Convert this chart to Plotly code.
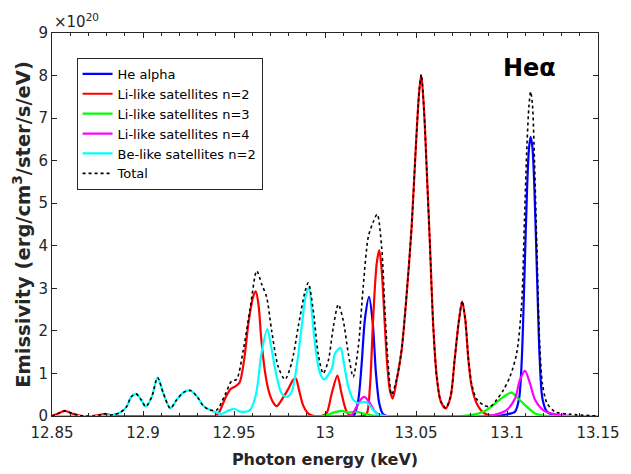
import plotly.graph_objects as go

# ---- data (keV, emissivity in units of 1e20) ----
he_x = [12.85, 13.014, 13.016, 13.0183, 13.0201, 13.022, 13.0242, 13.0262, 13.028, 13.0298, 13.0318, 13.034,
        13.095, 13.1, 13.1044, 13.1066, 13.1081, 13.1096, 13.111, 13.1121, 13.113, 13.114, 13.1151, 13.1165,
        13.118, 13.1195, 13.122, 13.1264, 13.135, 13.15]
he_y = [0, 0, 0.02, 0.38, 1.2, 2.3, 2.8, 2.2, 1.0, 0.3, 0.05, 0,
        0, 0.04, 0.1, 0.4, 1.3, 3.3, 5.3, 6.3, 6.56, 6.3, 5.3, 3.3,
        1.3, 0.4, 0.1, 0.02, 0, 0]

li2_x = [12.85, 12.853, 12.857, 12.861, 12.865, 12.872, 12.876, 12.879, 12.882, 12.886, 12.937,
         12.9396, 12.942, 12.945, 12.948, 12.9505, 12.953, 12.9555, 12.958, 12.9605, 12.962, 12.9635,
         12.965, 12.967, 12.969, 12.9715, 12.9735, 12.9765, 12.98, 12.9825, 12.984, 12.9855, 12.988,
         12.991, 12.994, 12.998, 13.0009, 13.0037, 13.0068, 13.0091, 13.0119, 13.0146, 13.0205,
         13.0229, 13.0247, 13.0265, 13.0284, 13.0298, 13.0312, 13.0328, 13.0342, 13.0357, 13.0372,
         13.0394, 13.0421, 13.0449, 13.0476, 13.05, 13.0518, 13.0529, 13.0544, 13.0559, 13.0577,
         13.0595, 13.0614, 13.0636, 13.0663, 13.069, 13.0712, 13.0736, 13.0754, 13.0771, 13.0788,
         13.0806, 13.0833, 13.087, 13.092, 13.15]
li2_y = [0, 0.05, 0.12, 0.06, 0.01, 0, 0.02, 0.05, 0.02, 0, 0,
         0, 0.1, 0.4, 0.63, 0.69, 0.78, 1.3, 2.2, 2.8, 2.93, 2.6,
         1.8, 1.05, 0.6, 0.32, 0.23, 0.4, 0.65, 0.85, 0.88, 0.65, 0.25,
         0.05, 0, 0, 0.07, 0.53, 0.95, 0.53, 0.1, 0, 0,
         0.05, 0.69, 2.33, 3.58, 3.9, 3.4, 2.2, 1.2, 0.6, 0.41,
         0.85, 1.55, 2.88, 4.45, 6.4, 7.65, 8.01, 7.19, 5.78, 3.98,
         2.1, 0.92, 0.34, 0.18, 0.45, 1.31, 2.25, 2.69, 2.25, 1.31,
         0.69, 0.3, 0.08, 0, 0]

li3_x = [12.85, 12.998, 13.0009, 13.0046, 13.0092, 13.0128, 13.0174, 13.0211, 13.0265, 13.03,
         13.075, 13.0797, 13.087, 13.0925, 13.098, 13.1025, 13.1062, 13.1108, 13.1154, 13.1199, 13.125, 13.15]
li3_y = [0, 0, 0.02, 0.08, 0.12, 0.08, 0.1, 0.06, 0.01, 0,
         0, 0.02, 0.1, 0.26, 0.45, 0.55, 0.41, 0.22, 0.06, 0.01, 0, 0]

li4_x = [12.85, 13.012, 13.0146, 13.0174, 13.0201, 13.0217, 13.0247, 13.0275, 13.031, 13.034,
         13.09, 13.0925, 13.0998, 13.1044, 13.1071, 13.1099, 13.1126, 13.1154, 13.1199, 13.1254, 13.1308, 13.135, 13.15]
li4_y = [0, 0, 0.02, 0.22, 0.41, 0.45, 0.3, 0.1, 0.01, 0,
         0, 0.02, 0.14, 0.41, 0.85, 1.06, 0.77, 0.38, 0.14, 0.05, 0.01, 0, 0]

be2_x = [12.85, 12.875, 12.88, 12.8835, 12.8874, 12.891, 12.8935, 12.8962, 12.899, 12.9015, 12.9048,
         12.908, 12.9112, 12.915, 12.9185, 12.9221, 12.926, 12.9298, 12.9331, 12.9368, 12.9405, 12.943,
         12.9465, 12.95, 12.953, 12.9565, 12.9588, 12.9607, 12.9625, 12.9652, 12.9683, 12.9704, 12.9735,
         12.9762, 12.979, 12.9817, 12.9844, 12.9872, 12.9893, 12.9912, 12.993, 12.9949, 12.9973, 12.9995,
         13.0038, 13.0055, 13.0086, 13.0101, 13.0128, 13.0156, 13.0184, 13.021, 13.0235, 13.0265, 13.0293,
         13.033, 13.15]
be2_y = [0, 0, 0.01, 0.03, 0.08, 0.22, 0.45, 0.52, 0.38, 0.22, 0.45,
         0.9, 0.53, 0.18, 0.38, 0.55, 0.6, 0.45, 0.24, 0.14, 0.08, 0.05,
         0.12, 0.17, 0.11, 0.1, 0.14, 0.3, 0.6, 1.5, 2.04, 1.63, 0.92,
         0.53, 0.45, 0.57, 1.16, 2.1, 2.8, 3.02, 2.33, 1.55, 1.0, 0.86,
         1.12, 1.47, 1.6, 1.31, 0.69, 0.38, 0.3, 0.33, 0.3, 0.14, 0.04,
         0, 0]

tot_x = [12.85, 12.853, 12.857, 12.861, 12.865, 12.872, 12.876, 12.879, 12.882, 12.8835, 12.8874,
         12.891, 12.8935, 12.8962, 12.899, 12.9015, 12.9048, 12.908, 12.9112, 12.915, 12.9185, 12.9221,
         12.926, 12.9298, 12.9331, 12.9368, 12.9405, 12.9451, 12.9487, 12.9514, 12.9551, 12.9588,
         12.9625, 12.9652, 12.9679, 12.9707, 12.9743, 12.978, 12.9817, 12.9853, 12.989, 12.9908,
         12.9935, 12.9963, 12.999, 13.0018, 13.0046, 13.0073, 13.01, 13.0128, 13.0155, 13.0183,
         13.021, 13.0238, 13.0265, 13.0287, 13.0311, 13.033, 13.0348, 13.0366, 13.0394, 13.0421,
         13.0449, 13.0476, 13.05, 13.0518, 13.0529, 13.0544, 13.0559, 13.0577, 13.0595, 13.0614,
         13.0636, 13.0663, 13.069, 13.0712, 13.0736, 13.0754, 13.0771, 13.0788, 13.0806, 13.0833,
         13.087, 13.0907, 13.0943, 13.098, 13.1016, 13.1053, 13.108, 13.1096, 13.111, 13.1121,
         13.113, 13.114, 13.1151, 13.1165, 13.118, 13.1195, 13.122, 13.1264, 13.135, 13.15]
tot_y = [0, 0.05, 0.12, 0.06, 0.01, 0, 0.02, 0.05, 0.02, 0.03, 0.08,
         0.22, 0.45, 0.52, 0.38, 0.22, 0.45, 0.9, 0.53, 0.18, 0.38, 0.55,
         0.6, 0.45, 0.24, 0.14, 0.14, 0.5, 0.82, 0.86, 1.55, 2.5,
         3.41, 3.1, 2.8, 2.0, 1.16, 0.86, 1.25, 2.1, 2.92, 3.13,
         2.5, 1.45, 1.0, 1.3, 2.1, 2.62, 2.25, 1.47, 0.92, 1.63,
         3.04, 4.21, 4.56, 4.74, 3.98, 2.41, 1.16, 0.5, 0.87, 1.56,
         2.88, 4.45, 6.4, 7.65, 8.02, 7.2, 5.78, 3.98, 2.1, 0.92,
         0.35, 0.19, 0.46, 1.31, 2.25, 2.7, 2.27, 1.35, 0.75, 0.4,
         0.26, 0.22, 0.38, 0.61, 0.92, 1.47, 2.6, 4.6, 6.4, 7.3,
         7.62, 7.3, 6.0, 3.8, 1.65, 0.75, 0.3, 0.1, 0.04, 0]

names = ["He alpha", "Li-like satellites n=2", "Li-like satellites n=3",
         "Li-like satellites n=4", "Be-like satellites n=2", "Total"]
x_ticks = [12.85, 12.9, 12.95, 13.0, 13.05, 13.1, 13.15]
x_labels = ["12.85", "12.9", "12.95", "13", "13.05", "13.1", "13.15"]

series = [(he_x, he_y, "#0000ff"), (li2_x, li2_y, "#ff0000"), (li3_x, li3_y, "#00ff00"),
          (li4_x, li4_y, "#ff00ff"), (be2_x, be2_y, "#00ffff")]

FONT = "DejaVu Sans"
AX = "#262626"

fig = go.Figure()
for (xs, ys, col), nm in zip(series, names[:5]):
    fig.add_trace(go.Scatter(x=xs, y=ys, name=nm, mode="lines",
                             line=dict(color=col, width=2.2, shape="spline", smoothing=0.8)))
fig.add_trace(go.Scatter(x=tot_x, y=tot_y, name=names[5], mode="lines",
                         line=dict(color="black", width=1.6, dash="dot", shape="spline", smoothing=0.8)))

fig.update_layout(
    width=631, height=474,
    margin=dict(l=52, r=33, t=33, b=58),
    plot_bgcolor="white", paper_bgcolor="white",
    font=dict(family=FONT, color=AX),
    legend=dict(x=0.045, y=0.935, xanchor="left", yanchor="top",
                bordercolor=AX, borderwidth=1, bgcolor="white",
                font=dict(size=13, family=FONT, color="black"),
                itemwidth=30, tracegroupgap=0),
    xaxis=dict(range=[12.85, 13.15], tickvals=x_ticks, ticktext=x_labels,
               ticks="inside", ticklen=5, tickcolor=AX, showline=True, linecolor=AX,
               linewidth=1, mirror="ticks", showgrid=False, zeroline=False, automargin=False,
               tickfont=dict(size=15, family=FONT, color=AX), ticklabelstandoff=3,
               minor=dict(dtick=0.01, tick0=12.85, ticks="inside", ticklen=3, tickcolor=AX),
               title=dict(text="<b>Photon energy (keV)</b>", font=dict(size=16, family=FONT, color=AX),
                          standoff=12)),
    yaxis=dict(range=[0, 9], dtick=1, ticks="inside", ticklen=5, tickcolor=AX, showline=True,
               linecolor=AX, linewidth=1, mirror="ticks", showgrid=False, zeroline=False, automargin=False,
               tickfont=dict(size=15, family=FONT, color=AX),
               title=dict(text="<b>Emissivity (erg/cm<sup>3</sup>/ster/s/eV)</b>",
                          font=dict(size=19.5, family=FONT, color=AX), standoff=2)),
    annotations=[
        dict(text="×10<sup>20</sup>", xref="paper", yref="paper", x=0.0, y=1.0,
             xanchor="left", yanchor="bottom", showarrow=False,
             font=dict(size=15, family=FONT, color=AX)),
        dict(text="<b>Heα</b>", xref="paper", yref="paper", x=0.874, y=0.909,
             xanchor="center", yanchor="middle", showarrow=False,
             font=dict(size=24, family=FONT, color="black")),
    ],
)

fig.write_html("out.html", config={"displayModeBar": False},
               post_script="document.body.style.margin='0';document.body.style.padding='0';")
